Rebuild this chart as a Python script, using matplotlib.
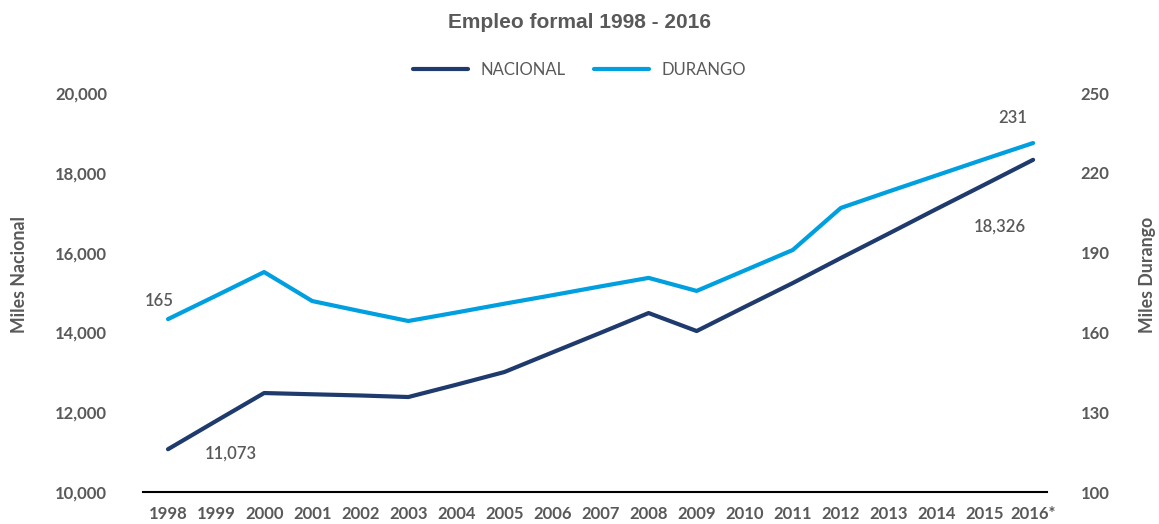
import matplotlib.pyplot as plt
import matplotlib.transforms as mtransforms
import numpy as np

years = ['1998', '1999', '2000', '2001', '2002', '2003', '2004', '2005', '2006',
         '2007', '2008', '2009', '2010', '2011', '2012', '2013', '2014', '2015', '2016*']
nacional = [11073, 11780, 12481, 12450, 12420, 12381, 12690, 13008, 13500,
            13990, 14486, 14035, 14640, 15238, 15865, 16480, 17100, 17710, 18326]
durango = [165.0, 173.8, 182.7, 171.8, 168.0, 164.3, 167.5, 170.8, 174.0,
           177.3, 180.5, 175.6, 183.3, 191.0, 206.8, 213.0, 219.1, 225.2, 231.2]

c_nac = '#1f3b6e'
c_dur = '#009fdf'
grey = '#595959'
tick_font = ['Lato', 'DejaVu Sans']

x = np.arange(len(years))

fig = plt.figure(figsize=(11.59, 5.24), dpi=100)
ax = fig.add_axes([0.1234, 0.061, 0.780, 0.7615])
ax2 = ax.twinx()

l1, = ax.plot(x, nacional, color=c_nac, lw=3, solid_capstyle='round', label='NACIONAL')
l2, = ax2.plot(x, durango, color=c_dur, lw=3, solid_capstyle='round', label='DURANGO')

ax.set_xlim(-0.52, 18.29)
ax.set_ylim(10000, 20000)
ax2.set_ylim(100, 250)
ax.set_yticks(range(10000, 20001, 2000))
ax.set_yticklabels([f'{v:,}' for v in range(10000, 20001, 2000)])
ax2.set_yticks(range(100, 251, 30))
ax.set_xticks(x)
ax.set_xticklabels(years)

for a in (ax, ax2):
    for s in ('top', 'left', 'right'):
        a.spines[s].set_visible(False)
    a.tick_params(length=0)
ax2.spines['bottom'].set_visible(False)
ax.spines['bottom'].set_color('black')
ax.spines['bottom'].set_linewidth(1.5)

shift = mtransforms.ScaledTranslation(-5 / 100, 0, fig.dpi_scale_trans)
for lab in ax.get_xticklabels():
    lab.set_fontfamily(tick_font)
    lab.set_fontsize(12)
    lab.set_fontweight('bold')
    lab.set_color(grey)
    lab.set_transform(lab.get_transform() + shift)
for lab in ax.get_yticklabels() + ax2.get_yticklabels():
    lab.set_fontfamily(tick_font)
    lab.set_fontsize(12)
    lab.set_fontweight('bold')
    lab.set_color(grey)
ax.tick_params(axis='x', pad=10)
ax.tick_params(axis='y', pad=26)
ax2.tick_params(axis='y', pad=24)

ax.set_ylabel('Miles Nacional', fontfamily='Lato', fontsize=12.8, fontweight='bold',
              color=grey)
ax2.set_ylabel('Miles Durango', fontfamily='Lato', fontsize=12.8, fontweight='bold',
               color=grey)
ax.yaxis.set_label_coords(-0.127, 0.545)
ax2.yaxis.set_label_coords(1.102, 0.545)

lab_font = dict(fontfamily='Lato', fontsize=12, color=grey, fontweight='semibold')
ax2.annotate('165', (x[0], durango[0]), xytext=(-6, 13), textcoords='offset points',
             ha='center', va='center', **lab_font)
ax.annotate('11,073', (x[0], nacional[0]), xytext=(45, -3), textcoords='offset points',
            ha='center', va='center', **lab_font)
ax2.annotate('231', (x[-1], durango[-1]), xytext=(-15, 18), textcoords='offset points',
             ha='center', va='center', **lab_font)
ax.annotate('18,326', (x[-1], nacional[-1]), xytext=(-24, -48), textcoords='offset points',
            ha='center', va='center', **lab_font)

fig.text(0.5, 0.958, 'Empleo formal 1998 - 2016', ha='center', va='center',
         fontfamily='Liberation Sans', fontsize=15, fontweight='bold', color=grey)
fig.legend([l1, l2], ['NACIONAL', 'DURANGO'], loc='center', bbox_to_anchor=(0.5, 0.866),
           ncol=2, frameon=False, handlelength=3.3, handletextpad=0.75, columnspacing=1.7,
           prop={'family': 'Lato', 'size': 12}, labelcolor=grey)

fig.savefig('out.png', dpi=100)
